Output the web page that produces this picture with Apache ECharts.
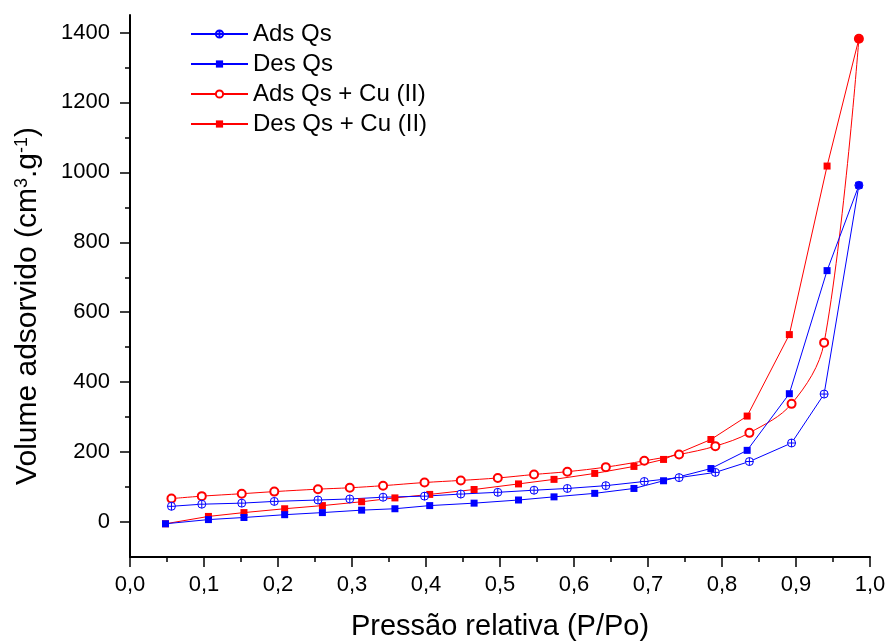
<!DOCTYPE html>
<html><head><meta charset="utf-8">
<script src="https://cdn.jsdelivr.net/npm/echarts@6/dist/echarts.min.js"></script>
<style>html,body{margin:0;padding:0;background:#fff}#c{width:888px;height:643px}</style>
</head><body><div id="c"></div>
<script>
// ---- data ----
const seriesNames = ['Ads Qs', 'Des Qs', 'Ads Qs + Cu (II)', 'Des Qs + Cu (II)'];
const adsQsX = [0.056,0.097,0.151,0.195,0.254,0.297,0.342,0.398,0.447,0.497,0.546,0.591,0.643,0.695,0.742,0.791,0.837,0.894,0.938,0.985];
const adsQsY = [45,51,54,59,63,66,71,74,80,85,91,96,104,116,127,142,173,226,366,963];
const desQsX = [0.048,0.106,0.154,0.209,0.260,0.313,0.358,0.405,0.465,0.525,0.573,0.628,0.681,0.721,0.785,0.834,0.891,0.942,0.985];
const desQsY = [-5,7,13,21,27,34,38,47,54,63,72,82,96,118,153,205,367,719,963];
const adsCuX = [0.056,0.097,0.151,0.195,0.254,0.297,0.342,0.398,0.447,0.497,0.546,0.591,0.643,0.695,0.742,0.791,0.837,0.894,0.938,0.985];
const adsCuY = [67,74,81,87,94,98,104,113,119,126,136,144,157,175,193,217,255,338,513,1382];
const desCuX = [0.048,0.106,0.154,0.209,0.260,0.313,0.358,0.405,0.465,0.525,0.573,0.628,0.681,0.721,0.785,0.834,0.891,0.942,0.985];
const desCuY = [-5,16,27,38,47,58,69,79,93,109,122,139,159,179,236,303,536,1018,1382];
const yMajorTicks = [0,200,400,600,800,1000,1200,1400];
const yMinorTicks = [100,300,500,700,900,1100,1300];
const xAxisTitle = 'Pressão relativa (P/Po)';
const yAxisTitle = 'Volume adsorvido (cm{s|3}.g{s|-1})';

const FONT = '"Liberation Sans", Arial, sans-serif';
const BLUE = '#0000ff', RED = '#ff0000';
const zip = (xs, ys) => xs.map((x, i) => [x, ys[i]]);
const crossCircle = 'path://M10,0A10,10,0,1,1,-10,0A10,10,0,1,1,10,0ZM-10,0L10,0M0,-10L0,10';

const chart = echarts.init(document.getElementById('c'), null, {renderer: 'canvas'});
const yCommon = {
  type: 'value', min: -100, max: 1450, position: 'left',
  splitLine: {show: false}
};
chart.setOption({
  animation: false,
  backgroundColor: '#fff',
  textStyle: {fontFamily: FONT},
  grid: {left: 130, right: 18, top: 15, bottom: 86, containLabel: false, outerBoundsMode: 'none'},
  legend: {
    data: seriesNames, orient: 'vertical', left: 185, top: 17,
    itemWidth: 57, itemHeight: 9, itemGap: 6,
    textStyle: {fontFamily: FONT, fontSize: 24, color: '#000'}
  },
  xAxis: {
    type: 'value', min: 0, max: 1, interval: 0.1,
    name: xAxisTitle, nameLocation: 'middle', nameGap: 55,
    nameTextStyle: {fontFamily: FONT, fontSize: 29, color: '#000'},
    axisLine: {show: true, onZero: false, lineStyle: {color: '#000', width: 2}},
    axisTick: {show: true, inside: false, length: 10, lineStyle: {color: '#000', width: 1.5}},
    minorTick: {show: true, splitNumber: 2, length: 5, lineStyle: {color: '#000', width: 1.5}},
    axisLabel: {fontFamily: FONT, fontSize: 22, color: '#000', margin: 17,
      formatter: v => v.toFixed(1).replace('.', ',')},
    splitLine: {show: false}
  },
  yAxis: [
    Object.assign({}, yCommon, {
      name: yAxisTitle, nameLocation: 'middle', nameGap: 87,
      nameTextStyle: {fontFamily: FONT, fontSize: 30, color: '#000', padding: [0, 40, 0, 0],
        rich: {s: {fontFamily: FONT, fontSize: 18, color: '#000', verticalAlign: 'top'}}},
      axisLine: {show: true, onZero: false, lineStyle: {color: '#000', width: 2}},
      axisTick: {show: true, inside: false, length: 10, customValues: yMajorTicks, lineStyle: {color: '#000', width: 1.5}},
      axisLabel: {fontFamily: FONT, fontSize: 22, color: '#000', margin: 20, customValues: yMajorTicks,
        formatter: v => String(v)}
    }),
    Object.assign({}, yCommon, {
      axisLine: {show: false},
      axisTick: {show: true, inside: false, length: 5, customValues: yMinorTicks, lineStyle: {color: '#000', width: 1.5}},
      axisLabel: {show: false}
    })
  ],
  series: [
    {name: seriesNames[2], type: 'line', data: zip(adsCuX, adsCuY), smooth: 0.35,
     symbol: 'emptyCircle', symbolSize: 8, color: RED,
     itemStyle: {color: RED, borderColor: RED, borderWidth: 1},
     lineStyle: {color: RED, width: 1}},
    {name: seriesNames[3], type: 'line', data: zip(desCuX, desCuY),
     symbol: 'rect', symbolSize: 7, color: RED,
     itemStyle: {color: RED}, lineStyle: {color: RED, width: 1}},
    {name: seriesNames[0], type: 'line', data: zip(adsQsX, adsQsY),
     symbol: crossCircle, symbolSize: 8, color: BLUE,
     itemStyle: {color: '#fff', borderColor: BLUE, borderWidth: 1},
     lineStyle: {color: BLUE, width: 1}},
    {name: seriesNames[1], type: 'line', data: zip(desQsX, desQsY),
     symbol: 'rect', symbolSize: 7, color: BLUE,
     itemStyle: {color: BLUE}, lineStyle: {color: BLUE, width: 1}}
  ]
});
</script>
</body></html>
